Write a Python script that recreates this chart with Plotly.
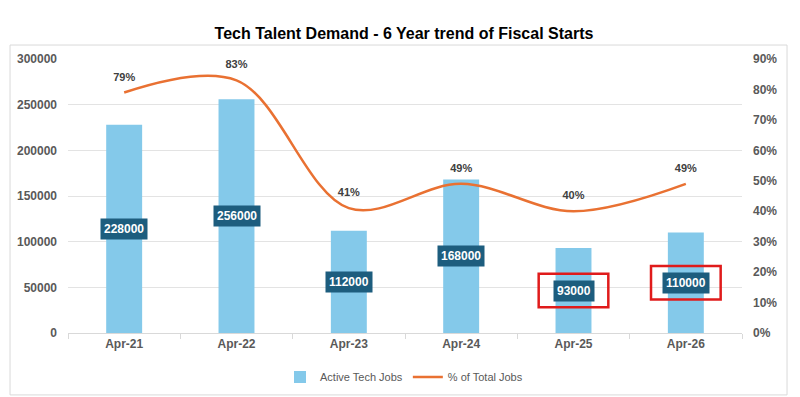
import plotly.graph_objects as go

categories = ["Apr-21", "Apr-22", "Apr-23", "Apr-24", "Apr-25", "Apr-26"]
active_jobs = [228000, 256000, 112000, 168000, 93000, 110000]
pct_total = [0.79, 0.83, 0.41, 0.49, 0.40, 0.49]
pct_labels = ["79%", "83%", "41%", "49%", "40%", "49%"]
highlighted = ["Apr-25", "Apr-26"]

FONT = "Liberation Sans, Arial, sans-serif"
GREY = "#595959"
W, H = 792, 389  # page body adds an 8px offset

fig = go.Figure()
fig.add_trace(go.Bar(
    x=categories, y=active_jobs, name="Active Tech Jobs",
    marker=dict(color="#84C9EA", line=dict(width=0)), width=0.32,
    hoverinfo="x+y",
))
fig.add_trace(go.Scatter(
    x=categories, y=pct_total, name="% of Total Jobs", yaxis="y2",
    mode="lines+markers+text", text=pct_labels, textposition="top center",
    marker=dict(size=13, color="rgba(0,0,0,0)"), cliponaxis=False,
    textfont=dict(family=FONT, size=11, color="#404040", weight="bold"),
    line=dict(color="#E97132", width=2.5, shape="spline", smoothing=1.0),
))

annotations = []
for c, v in zip(categories, active_jobs):
    annotations.append(dict(
        x=c, y=v / 2, xref="x", yref="y", text="<b>%d</b>" % v, showarrow=False,
        bgcolor="#1D5D7E", borderpad=3,
        font=dict(family=FONT, size=12, color="white"),
    ))

shapes = [dict(type="rect", xref="paper", yref="paper", x0=-0.086, x1=1.0668,
               y0=-0.226, y1=1.051, line=dict(color="#D9D9D9", width=1),
               layer="below")]
for c, v in zip(categories, active_jobs):
    if c in highlighted:
        i = categories.index(c)
        shapes.append(dict(type="rect", xref="x", yref="y",
                           x0=i - 0.31, x1=i + 0.31,
                           y0=v / 2 - 18300, y1=v / 2 + 18300,
                           line=dict(color="#E01B1B", width=2.5)))

fig.update_layout(
    width=W, height=H,
    margin=dict(l=60, r=58, t=51, b=64, autoexpand=False),
    paper_bgcolor="white", plot_bgcolor="white",
    title=dict(text="<b>Tech Talent Demand - 6 Year trend of Fiscal Starts</b>",
               x=0.5, xanchor="center", y=1 - 25 / H, yanchor="middle",
               font=dict(family=FONT, size=16, color="#000000")),
    font=dict(family=FONT, color=GREY),
    xaxis=dict(type="category", showgrid=False, ticks="outside", tickson="boundaries",
               ticklen=5, tickcolor="#D9D9D9", showline=True, linecolor="#D9D9D9",
               automargin=False,
               tickfont=dict(family=FONT, size=12, color=GREY, weight="bold")),
    yaxis=dict(range=[0, 300000], dtick=50000, tickformat="d", showgrid=True,
               gridcolor="#E3E3E3", zeroline=False, showline=False,
               ticklabelstandoff=10, automargin=False,
               tickfont=dict(family=FONT, size=12, color=GREY, weight="bold")),
    yaxis2=dict(range=[0, 0.9], dtick=0.1, tickformat=".0%", overlaying="y",
                side="right", showgrid=False, zeroline=False, showline=False,
                ticklabelstandoff=10, automargin=False,
                tickfont=dict(family=FONT, size=12, color=GREY, weight="bold")),
    legend=dict(orientation="h", x=0.5, xanchor="center", xref="container",
                y=1 - 369 / H, yanchor="middle", yref="container",
                font=dict(family=FONT, size=11, color=GREY)),
    annotations=annotations, shapes=shapes, bargap=0.68,
)

fig.write_html("out.html")
